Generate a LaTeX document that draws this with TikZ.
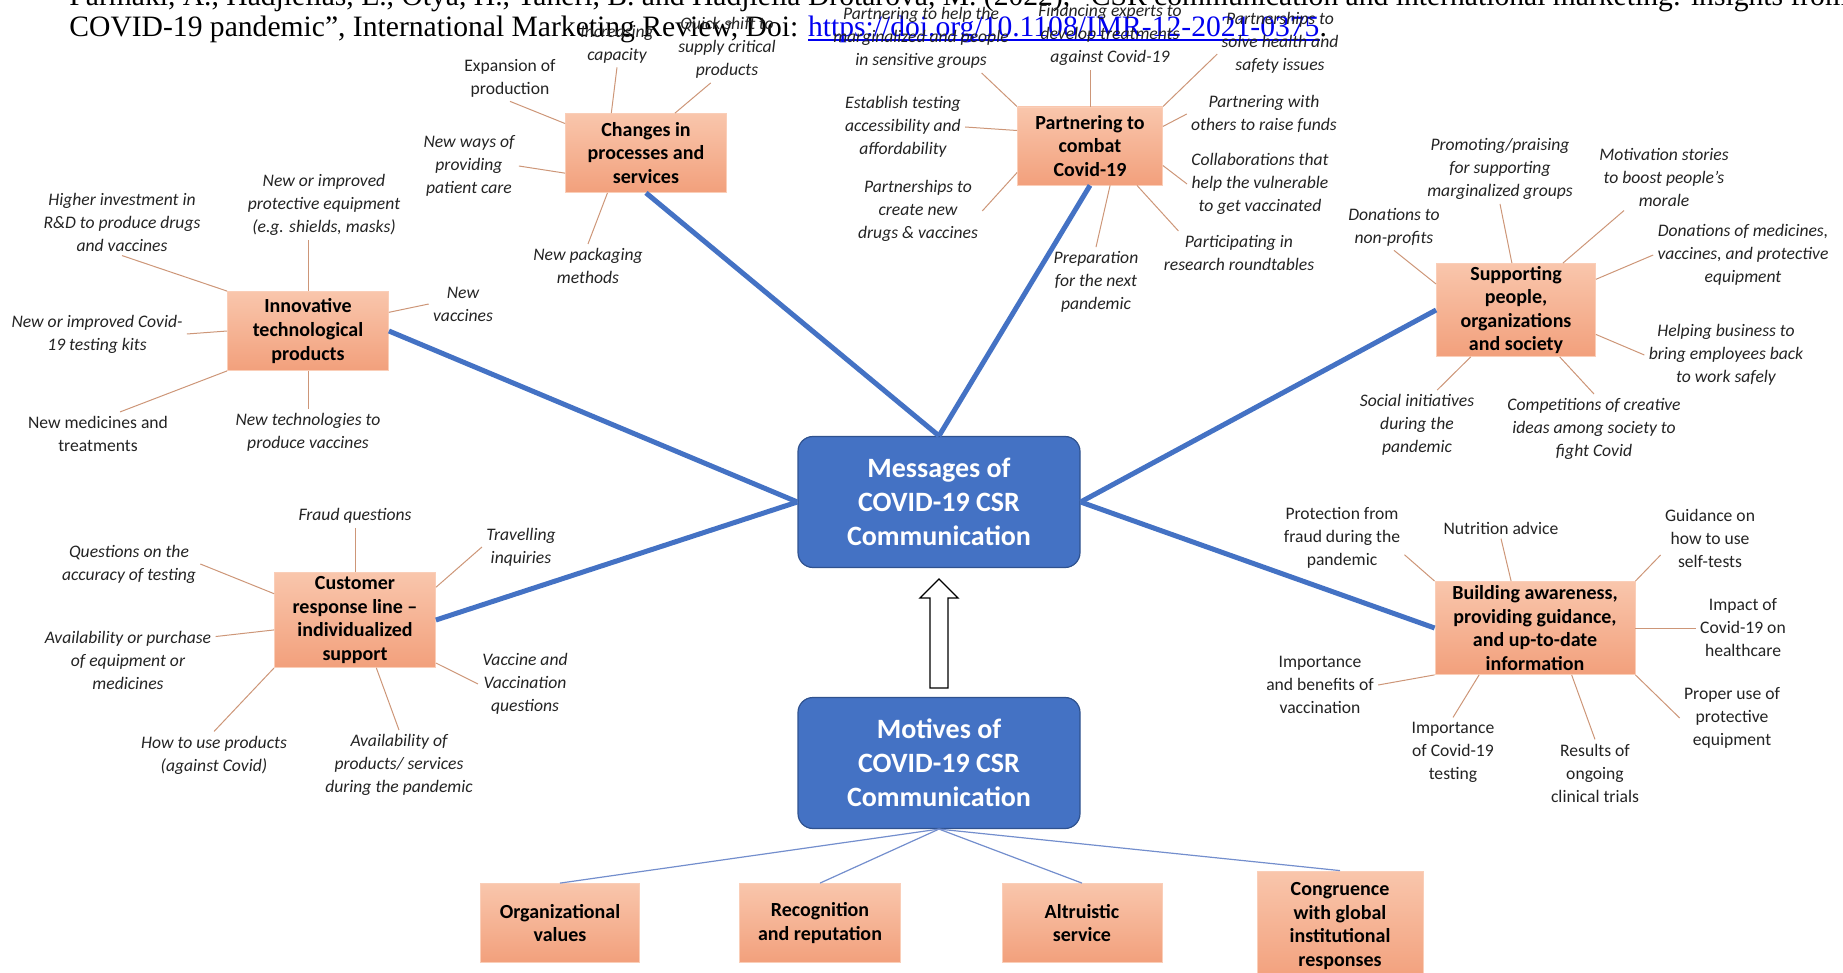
\documentclass[tikz,border=0pt]{standalone}
\usepackage{fontspec}
\setmainfont{Carlito}
\newfontfamily\citefont{Liberation Serif}
\definecolor{hubblue}{RGB}{68,114,196}
\definecolor{hubedge}{RGB}{47,82,143}
\definecolor{peachtop}{RGB}{249,198,172}
\definecolor{peachbot}{RGB}{242,160,124}
\definecolor{peachedge}{RGB}{250,206,184}
\definecolor{twigline}{RGB}{205,150,120}
\definecolor{motiveblue}{RGB}{115,142,205}
\definecolor{leafink}{RGB}{35,35,35}
\definecolor{linkblue}{RGB}{0,0,240}
\newcommand\doiline[1]{\setbox0\hbox{#1}\rlap{\rule[-2.2pt]{\wd0}{1pt}}\box0}
\begin{document}
\begin{tikzpicture}[x=0.5pt, y=-0.5pt,
  hub/.style={rectangle, rounded corners=7.5pt, fill=hubblue, draw=hubedge, line width=0.6pt, text=white, align=center, font=\fontsize{14}{17}\selectfont\bfseries, minimum width=141pt, minimum height=65.5pt},
  theme/.style={rectangle, top color=peachtop, bottom color=peachbot, draw=peachedge, line width=0.4pt, align=center, font=\fontsize{10}{11.8}\selectfont\bfseries, inner sep=1pt},
  leaf/.style={align=center, inner sep=2pt, text=leafink, font=\fontsize{8.8}{11.5}\selectfont\itshape},
  leafup/.style={leaf, font=\fontsize{8.8}{11.5}\selectfont},
  spoke/.style={draw=hubblue, line width=2.5pt},
  twig/.style={draw=twigline, line width=0.5pt},
  motiveline/.style={draw=motiveblue, line width=0.6pt},
  cite/.style={inner sep=0pt, anchor=base west, font=\citefont\fontsize{14.8}{16}\selectfont}]
\useasboundingbox (0,0) rectangle (1843,973);
\begin{scope}
\clip (0,0) rectangle (1843,973);
\node [cite] (citea) at (69,6) {Parmaki, A., Hadjielias, E., Otya, H., Taheri, B. and Hadjielia Drotarova, M. (2022), “CSR communication and international marketing: insights from the};
\node [cite] (citeb) at (69,37) {COVID-19 pandemic”, International Marketing Review, Doi: \textcolor{linkblue}{\doiline{https://doi.org/10.1108/IMR-12-2021-0375}}.};
\end{scope}

\node [hub] (msg) at (939,502) {Messages of\\COVID-19 CSR\\Communication};
\node [hub] (motive) at (939,763) {Motives of\\COVID-19 CSR\\Communication};

\node [theme, minimum width=80.5pt, minimum height=39.5pt] (innov) at (308,331) {Innovative\\technological\\products};
\node [theme, minimum width=80.5pt, minimum height=39.5pt] (changes) at (646,153) {Changes in\\processes and\\services};
\node [theme, minimum width=72.5pt, minimum height=39pt] (partner) at (1090,146) {Partnering to\\combat\\Covid-19};
\node [theme, minimum width=79.5pt, minimum height=46.5pt] (support) at (1516,310) {Supporting\\people,\\organizations\\and society};
\node [theme, minimum width=100pt, minimum height=46.5pt] (build) at (1535,628) {Building awareness,\\providing guidance,\\and up-to-date\\information};
\node [theme, minimum width=80.5pt, minimum height=47.5pt] (cust) at (355,620) {Customer\\response line --\\individualized\\support};

\node [theme, minimum width=79.5pt, minimum height=39.5pt] (orgval) at (560,923) {Organizational\\values};
\node [theme, minimum width=80.5pt, minimum height=39.5pt] (recog) at (820,923) {Recognition\\and reputation};
\node [theme, minimum width=80pt, minimum height=39.5pt] (altru) at (1082,923) {Altruistic\\service};
\node [theme, minimum width=83pt, minimum height=55pt] (congr) at (1340,926) {Congruence\\with global\\institutional\\responses};

\node [leaf] (hinv) at (122,222) {Higher investment in\\R\&D to produce drugs\\and vaccines};
\node [leaf] (pequip) at (324,205) {New or improved\\protective equipment\\(e.g. shields, masks)};
\node [leaf] (nvac) at (463,304) {New\\vaccines};
\node [leaf] (ntest) at (97,334) {New or improved Covid-\\19 testing kits};
\node [leafup] (nmed) at (98,434) {New medicines and\\treatments};
\node [leaf] (ntech) at (308,432) {New technologies to\\produce vaccines};

\node [leaf] (incap) at (617,44) {Increasing\\capacity};
\node [leaf] (qshift) at (727,48) {Quick shift to\\supply critical\\products};
\node [leafup] (expan) at (510,78) {Expansion of\\production};
\node [leaf] (nways) at (469,166) {New ways of\\providing\\patient care};
\node [leaf] (npack) at (588,266) {New packaging\\methods};

\node [leaf] (pmarg) at (921,38) {Partnering to help the\\marginalized and people\\in sensitive groups};
\node [leaf] (finexp) at (1110,35) {Financing experts to\\develop treatments\\against Covid-19};
\node [leaf] (psolve) at (1280,43) {Partnerships to\\solve health and\\safety issues};
\node [leaf] (esttest) at (903,127) {Establish testing\\accessibility and\\affordability};
\node [leaf] (praise) at (1264,114) {Partnering with\\others to raise funds};
\node [leaf] (pcreate) at (918,211) {Partnerships to\\create new\\drugs \& vaccines};
\node [leaf] (pvuln) at (1260,184) {Collaborations that\\help the vulnerable\\to get vaccinated};
\node [leaf] (pnext) at (1096,282) {Preparation\\for the next\\pandemic};
\node [leaf] (prt) at (1239,253) {Participating in\\research roundtables};

\node [leaf] (ppraise) at (1500,169) {Promoting/praising\\for supporting\\marginalized groups};
\node [leaf] (motiv) at (1664,177) {Motivation stories\\to boost people’s\\morale};
\node [leaf] (donnp) at (1394,227) {Donations to\\non-profits};
\node [leaf] (donmed) at (1743,255) {Donations of medicines,\\vaccines, and protective\\equipment};
\node [leaf] (helpbiz) at (1726,355) {Helping business to\\bring employees back\\to work safely};
\node [leaf] (socini) at (1417,425) {Social initiatives\\during the\\pandemic};
\node [leaf] (compet) at (1594,429) {Competitions of creative\\ideas among society to\\fight Covid};

\node [leafup] (protfr) at (1342,538) {Protection from\\fraud during the\\pandemic};
\node [leafup] (nutri) at (1501,528) {Nutrition advice};
\node [leafup] (guide) at (1710,538) {Guidance on\\how to use\\self-tests};
\node [leafup] (impact) at (1743,628) {Impact of\\Covid-19 on\\healthcare};
\node [leafup] (impvac) at (1320,685) {Importance\\and benefits of\\vaccination};
\node [leafup] (imptest) at (1453,752) {Importance\\of Covid-19\\testing};
\node [leafup] (results) at (1595,773) {Results of\\ongoing\\clinical trials};
\node [leafup] (proper) at (1732,718) {Proper use of\\protective\\equipment};

\node [leaf] (fraud) at (355,516) {Fraud questions};
\node [leaf] (qacc) at (129,564) {Questions on the\\accuracy of testing};
\node [leaf] (travel) at (521,547) {Travelling\\inquiries};
\node [leaf] (avail) at (128,660) {Availability or purchase\\of equipment or\\medicines};
\node [leaf] (vaccq) at (525,684) {Vaccine and\\Vaccination\\questions};
\node [leaf] (howuse) at (214,755) {How to use products\\(against Covid)};
\node [leaf] (availps) at (399,765) {Availability of\\products/ services\\during the pandemic};

\draw [twig] (hinv.south) -- (innov.north west);
\draw [twig] (innov.north |- pequip.south) -- (innov.north);
\draw [twig] (nvac.west) -- (innov.13);
\draw [twig] (ntest.east) -- (innov.west);
\draw [twig] (nmed.45) -- (innov.south west);
\draw [twig] (ntech.north) -- (innov.south);

\draw [twig] (incap.south) -- (changes.131);
\draw [twig] (qshift.245) -- (changes.54);
\draw [twig] (expan.south) -- (changes.160);
\draw [twig] (nways.east) -- (changes.194);
\draw [twig] (npack.north) -- (changes.226);

\draw [twig] (pmarg.330) -- (partner.north west);
\draw [twig] (partner.north |- finexp.south) -- (partner.north);
\draw [twig] (psolve.190) -- (partner.north east);
\draw [twig] (esttest.east) -- (partner.168);
\draw [twig] (praise.west) -- (partner.15);
\draw [twig] (pcreate.east) -- (partner.200);
\draw [twig] (pvuln.west) -- (partner.345);
\draw [twig] (pnext.north) -- (partner.297);
\draw [twig] (prt.160) -- (partner.320);

\draw [twig] (ppraise.south) -- (support.95);
\draw [twig] (motiv.220) -- (support.45);
\draw [twig] (donnp.south) -- (support.162);
\draw [twig] (donmed.west) -- (support.21);
\draw [twig] (helpbiz.west) -- (support.343);
\draw [twig] (socini.60) -- (support.226);
\draw [twig] (compet.north) -- (support.313);

\draw [twig] (protfr.345) -- (build.north west);
\draw [twig] (nutri.south) -- (build.117);
\draw [twig] (guide.199) -- (build.north east);
\draw [twig] (impact.west) -- (build.east);
\draw [twig] (impvac.east) -- (build.south west);
\draw [twig] (imptest.north) -- (build.220);
\draw [twig] (results.north) -- (build.308);
\draw [twig] (proper.west) -- (build.south east);

\draw [twig] (fraud.south) -- (cust.north);
\draw [twig] (qacc.east) -- (cust.162);
\draw [twig] (travel.west) -- (cust.22);
\draw [twig] (avail.15) -- (cust.187);
\draw [twig] (vaccq.west) -- (cust.332);
\draw [twig] (howuse.north) -- (cust.south west);
\draw [twig] (availps.north) -- (cust.294);

\draw [spoke] (innov.east) -- (msg.west);
\draw [spoke] (cust.east) -- (msg.west);
\draw [spoke] (changes.south) -- (msg.north);
\draw [spoke] (partner.south) -- (msg.north);
\draw [spoke] (support.west) -- (msg.east);
\draw [spoke] (build.west) -- (msg.east);

\foreach \m in {orgval,recog,altru,congr}
  \draw [motiveline] (motive.south) -- (\m.north);

\draw [fill=white, line width=0.65pt] (930,688) -- (930,598) -- (920,598) -- (939,579) -- (958,598) -- (948,598) -- (948,688) -- cycle;
\end{tikzpicture}
\end{document}
